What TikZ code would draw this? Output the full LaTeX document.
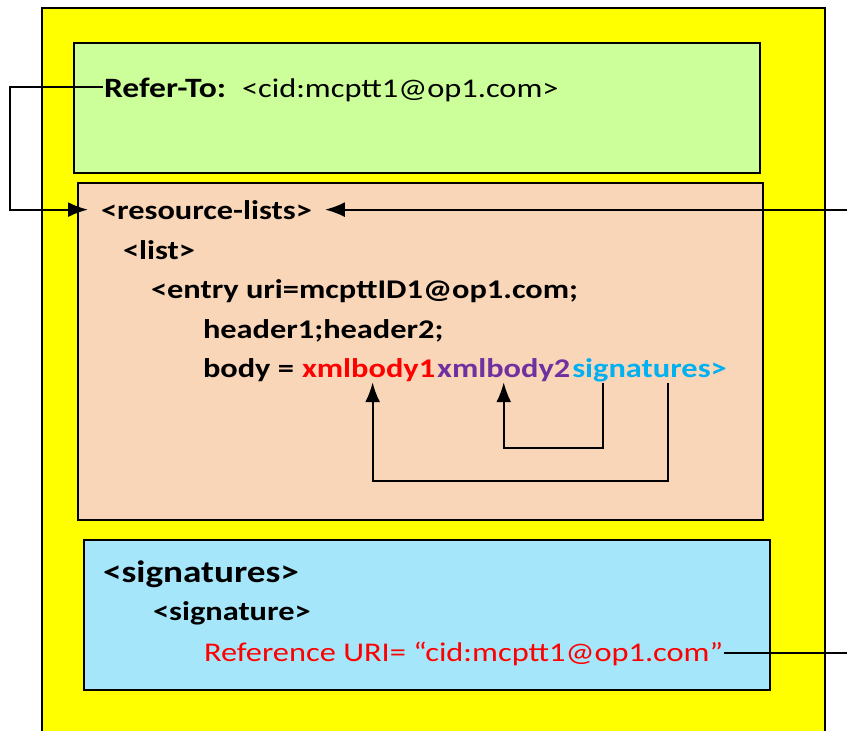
\documentclass[tikz,border=0pt]{standalone}
\usepackage{fontspec}
\setmainfont{Carlito}[FakeStretch=1.2]
\usetikzlibrary{arrows.meta,calc}
\definecolor{outeryellow}{HTML}{FFFF00}
\definecolor{boxgreen}{HTML}{CCFF99}
\definecolor{boxpeach}{HTML}{FAD6B8}
\definecolor{boxblue}{HTML}{A6E6FA}
\definecolor{xmlred}{HTML}{FF0000}
\definecolor{xmlpurple}{HTML}{7030A0}
\definecolor{xmlcyan}{HTML}{00B0F0}
\begin{document}
\begin{tikzpicture}[x=1pt,y=-1pt,line width=2pt,>={Latex[length=20pt,width=15pt]},
  txt/.style={anchor=base west,inner sep=0pt,font=\fontsize{27}{32}\selectfont},
  btxt/.style={txt,font=\fontsize{27}{32}\selectfont\bfseries}]
\useasboundingbox (0,0) rectangle (847,731);
\coordinate (edge) at (850,0);
% boxes
\draw[fill=outeryellow] (42,8) rectangle (825,745);
\draw[fill=boxgreen] (74,43) rectangle (760,173);
\draw[fill=boxpeach] (78,183) rectangle (763,520);
\draw[fill=boxblue] (84,540) rectangle (770,690);
% Refer-To header
\node[btxt,font=\fontsize{28}{32}\selectfont\bfseries] (refer) at (103,97) {Refer-To:};
\node[txt] (cid) at (241,97) {<cid:mcptt1@op1.com>};
% resource list body
\node[btxt] (rl) at (100,219) {<resource-lists>};
\node[btxt] (list) at (122,259) {<list>};
\node[btxt] (entry) at (150,298) {<entry uri=mcpttID1@op1.com;};
\node[btxt] (hdr) at (202,338) {header1;header2;};
\node[btxt] (body) at (202,377) {body =};
\node[btxt,text=xmlred] (xb1) at ($(body.base east)+(6,0)$) {xmlbody1};
\node[btxt,text=xmlpurple] (xb2) at (xb1.base east) {xmlbody2};
\node[btxt,text=xmlcyan] (sig) at (xb2.base east) {signatures>};
% signatures part
\node[txt,font=\fontsize{31}{36}\selectfont\bfseries] (sigs) at (102,582) {<signatures>};
\node[btxt] (sign) at (152,620) {<signature>};
\node[txt,text=xmlred] (ref) at (203,661) {Reference URI= “cid:mcptt1@op1.com”};
% connectors
\draw[->] (refer.west) -- ++(-93,0) |- ($(rl.west)+(-12,0)$);
\draw[->] (rl.east -| edge) -- ($(rl.east)+(12,0)$);
\draw (ref.east) -- (ref.east -| edge);
\coordinate (s1) at ($(sig.south west)!0.2!(sig.south east)$);
\coordinate (s2) at ($(sig.south west)!0.62!(sig.south east)$);
\coordinate (t1) at ($(xb1.south west)!0.53!(xb1.south east)$);
\coordinate (t2) at ($(xb2.south west)!0.5!(xb2.south east)$);
\draw[->] (s1) -- ++(0,65) -| (t2);
\draw[->] (s2) -- ++(0,98) -| (t1);
\end{tikzpicture}
\end{document}
